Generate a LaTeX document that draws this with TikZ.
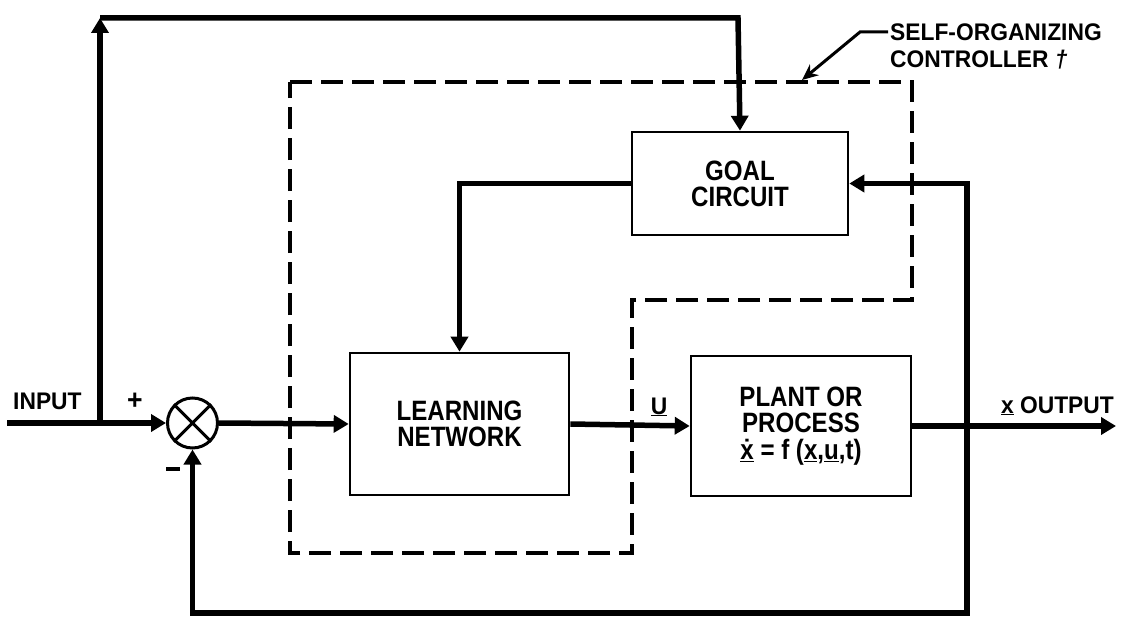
\documentclass[tikz,border=0pt]{standalone}
\usepackage{fontspec}
\usetikzlibrary{arrows.meta}
\newfontfamily\boxfont{Liberation Sans}[FakeStretch=0.86]
\newfontfamily\lblfont{Liberation Sans}[FakeStretch=0.95]
\tikzset{
  blk/.style={draw, line width=2.6pt, minimum width=#1, inner sep=0pt, align=center,
     font=\boxfont\bfseries\fontsize{28}{26}\selectfont},
  conn/.style={line width=5.5pt, -{Triangle[length=15pt,width=17pt]}},
  wire/.style={line width=5.5pt},
  lbl/.style={font=\lblfont\bfseries\fontsize{24}{27}\selectfont, inner sep=0pt},
  ctrlbox/.style={line width=3.2pt, dash pattern=on 22pt off 9pt},
  leader/.style={line width=3pt, -{Stealth[length=16pt,width=14pt]}}
}
\begin{document}
\begin{tikzpicture}[x=1pt,y=-1pt]
\useasboundingbox (0,0) rectangle (1122,618);

% controller boundary
\draw[ctrlbox] (290,82) -- (912,82) -- (912,300) -- (632,300) -- (632,553) -- (290,553) -- cycle;

% blocks
\node[blk=219pt, minimum height=142pt] (learn) at (459.5,424) {LEARNING\\NETWORK};
\node[blk=220pt, minimum height=140pt] (plant) at (801,426) {PLANT OR\\PROCESS\\[1pt]\underline{\.{x}} = f (\underline{x},\underline{u},t)};
\node[blk=216pt, minimum height=103pt] (goal) at (740,183.5) {GOAL\\CIRCUIT};
\node[draw, circle, line width=3pt, minimum size=50pt, inner sep=0pt] (sum) at (192.5,423) {};
\draw[line width=3pt] (sum.north west) -- (sum.south east) (sum.north east) -- (sum.south west);

% coordinates
\coordinate (in) at (7,423);
\coordinate (br) at (100,423);
\coordinate (tl) at (100,18);
\coordinate (tr) at (738,18);
\coordinate (fb) at (967,426);
\coordinate (fbb) at (967,613);
\coordinate (out) at (1116,426);

% connectors
\draw[wire] (in) -- (br);
\draw[conn] (br) -- (sum.west);
\draw[conn] (br) -- (tl);
\draw[conn] (tl) -- (tr) -- (goal.north);
\draw[conn] (sum.east) -- (learn.west);
\draw[conn] (learn.east) -- (plant.west);
\draw[conn] (plant.east) -- (out);
\draw[conn] (fb) |- (goal.east);
\draw[conn] (fb) -- (fbb) -| (sum.south);
\draw[conn] (goal.west) -| (learn.north);

% labels
\node[lbl, anchor=west] (inlbl) at (13,401) {INPUT};
\node[lbl, font=\lblfont\bfseries\fontsize{28}{28}\selectfont] (plus) at (135,401) {+};
\node[lbl] (minus) at (173,469) {\rule{14pt}{3.8pt}};
\node[lbl, anchor=base] (ulbl) at (659,414) {\underline{U}};
\node[lbl, anchor=base east] (outlbl) at (1114,413) {\underline{x} OUTPUT};
\node[lbl, anchor=west, align=left] (soc) at (890,46) {SELF-ORGANIZING\\CONTROLLER \textit{†}};

% leader arrow
\coordinate (ld1) at (888,32);
\coordinate (ld2) at (860,32);
\coordinate (ld3) at (802,80);
\draw[leader] (ld1) -- (ld2) -- (ld3);
\end{tikzpicture}
\end{document}
